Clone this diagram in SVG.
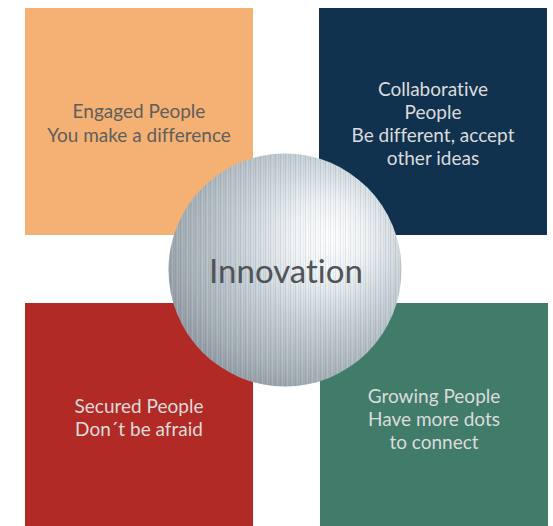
<svg xmlns="http://www.w3.org/2000/svg" width="553" height="526" viewBox="0 0 553 526">
  <style>
    text { font-variant-ligatures: none; font-feature-settings: "liga" 0, "clig" 0; }
    .lbl { font-family: Lato, "Open Sans", "Liberation Sans", sans-serif; font-size: 19px; text-anchor: middle; }
    .dark { fill: #5e5e5e; }
    .light { fill: #dcdcdc; }
    .center { font-family: Lato, "Open Sans", "Liberation Sans", sans-serif; font-size: 33px; text-anchor: middle; fill: #505458; }
  </style>
  <defs>
    <radialGradient id="metal" cx="0.64" cy="0.38" r="0.78" fx="0.7" fy="0.36">
      <stop offset="0" stop-color="#ffffff"/>
      <stop offset="0.2" stop-color="#f0f4f6"/>
      <stop offset="0.45" stop-color="#c9d3d9"/>
      <stop offset="0.75" stop-color="#a6b0b7"/>
      <stop offset="1" stop-color="#838c95"/>
    </radialGradient>
    <pattern id="stripes" width="5" height="10" patternUnits="userSpaceOnUse">
      <rect x="0" y="0" width="1" height="10" fill="#5a6670" fill-opacity="0.14"/>
      <rect x="2" y="0" width="1" height="10" fill="#ffffff" fill-opacity="0.12"/>
      <rect x="3" y="0" width="1" height="10" fill="#5a6670" fill-opacity="0.07"/>
    </pattern>
  </defs>
  <rect width="553" height="526" fill="#ffffff"/>
  <g id="engaged">
    <rect x="25" y="8" width="228" height="227" fill="#f4b173"/>
    <text class="lbl dark" x="139" y="118">Engaged People</text>
    <text class="lbl dark" x="139" y="142">You make a difference</text>
  </g>
  <g id="collaborative">
    <rect x="319" y="8" width="228" height="227" fill="#10324f"/>
    <text class="lbl light" x="433" y="96">Collaborative</text>
    <text class="lbl light" x="433" y="119">People</text>
    <text class="lbl light" x="433" y="142">Be different, accept</text>
    <text class="lbl light" x="433" y="165">other ideas</text>
  </g>
  <g id="secured">
    <rect x="25" y="303" width="228" height="223" fill="#b22a26"/>
    <text class="lbl light" x="139" y="413">Secured People</text>
    <text class="lbl light" x="139" y="436">Don´t be afraid</text>
  </g>
  <g id="growing">
    <rect x="320" y="303" width="228" height="223" fill="#417b6a"/>
    <text class="lbl light" x="434" y="403">Growing People</text>
    <text class="lbl light" x="434" y="426">Have more dots</text>
    <text class="lbl light" x="434" y="449">to connect</text>
  </g>
  <g id="innovation">
    <circle cx="285" cy="270" r="116.5" fill="url(#metal)"/>
    <circle cx="285" cy="270" r="116.5" fill="url(#stripes)"/>
    <text class="center" x="286" y="283">Innovation</text>
  </g>
  <g id="connectors"/>
</svg>
